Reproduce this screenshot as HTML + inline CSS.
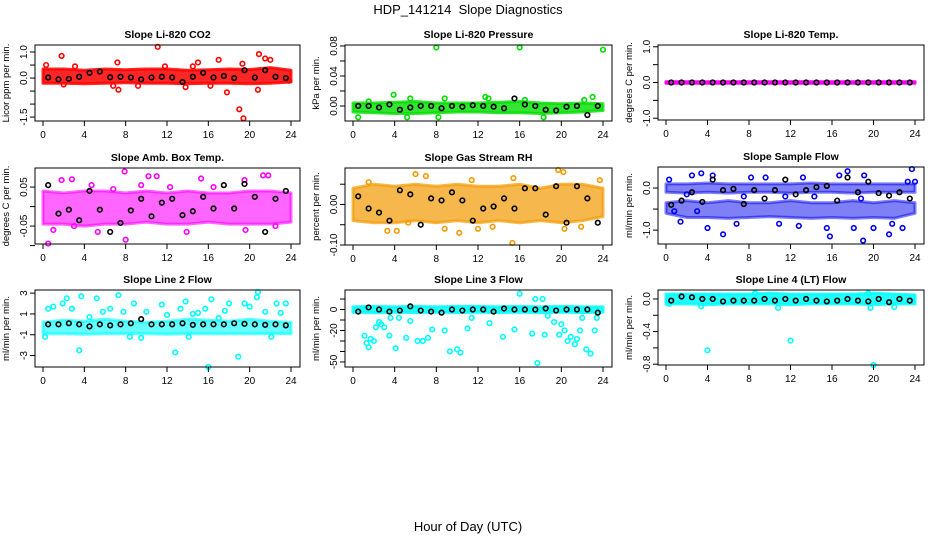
<!DOCTYPE html>
<html><head><meta charset="utf-8"><style>
body{margin:0;background:#fff}
svg{display:block;font-family:"Liberation Sans",sans-serif}
.t{font-size:10.5px;font-weight:bold}
.tk{font-size:10px}
.yl{font-size:9.5px}
</style></head><body>
<svg id="chart" width="936" height="540" viewBox="0 0 936 540">
<rect width="936" height="540" fill="#fff"/>
<text x="468" y="14" text-anchor="middle" font-size="13" xml:space="preserve">HDP_141214  Slope Diagnostics</text>
<text x="468" y="531" text-anchor="middle" font-size="13">Hour of Day (UTC)</text>
<g id="panels"></g>
</svg>
<script>
// shared x data
const xTicks = [0,4,8,12,16,20,24];
const bandHours = [0,2,4,6,8,10,12,14,16,18,20,22,24];
const meanHours = [0.5,1.5,2.5,3.5,4.5,5.5,6.5,7.5,8.5,9.5,10.5,11.5,12.5,13.5,14.5,15.5,16.5,17.5,18.5,19.5,20.5,21.5,22.5,23.5];

// Panel 1: CO2
const co2BandLo = [-0.2,-0.2,-0.22,-0.2,-0.18,-0.2,-0.2,-0.22,-0.2,-0.2,-0.22,-0.2,-0.15];
const co2BandHi = [0.35,0.35,0.3,0.35,0.32,0.35,0.35,0.3,0.32,0.35,0.33,0.4,0.3];
const co2Pts = [[1.8,0.85],[11.1,1.2],[19,-1.2],[19.4,-1.55],[20.9,0.92],[17.8,-0.55],[17,0.7],[21.5,0.75],[7.2,0.6],[15,0.6],[0.3,0.5],[16.2,-0.3],[20.8,-0.45],[7.3,-0.45],[2,-0.25],[13.8,-0.35],[9.2,-0.3],[22,0.7],[19.3,0.55],[3.1,0.45],[6.8,-0.3],[11.8,0.45],[14.5,0.45],[23.8,-0.1]];
const co2Means = [0.02,-0.05,-0.03,0.05,0.2,0.25,0.03,0.05,0.02,-0.05,0.02,0.05,0.02,-0.15,0.05,0.2,0.02,0.08,0,0.3,0.02,0.3,0.05,0];

// Panel 2: Pressure
const prBandLo = [-0.008,-0.009,-0.01,-0.01,-0.009,-0.008,-0.008,-0.009,-0.009,-0.01,-0.009,-0.008,-0.006];
const prBandHi = [0.004,0.004,0.005,0.006,0.004,0.004,0.004,0.005,0.006,0.004,0.003,0.004,0.003];
const prPts = [[8,0.078],[16,0.078],[24,0.075],[3.9,0.015],[8.8,0.01],[12.7,0.012],[23,0.012],[5.5,0.01],[16.5,0.008],[0.5,-0.015],[8.2,-0.015],[18.3,-0.015],[5.2,-0.015],[1.5,0.006],[13,0.01],[22.2,0.008]];
const prMeans = [0,0,-0.002,0.002,-0.005,-0.002,0,0,-0.003,0,-0.001,0.001,0,-0.001,-0.003,0.01,0.002,0,-0.005,-0.006,-0.001,0,-0.012,0];

// Panel 3: Li-820 Temp
const tpBandLo = [-0.02,-0.02,-0.02,-0.02,-0.02,-0.02,-0.02,-0.02,-0.02,-0.02,-0.02,-0.02,-0.02];
const tpBandHi = [0.02,0.02,0.02,0.02,0.02,0.02,0.02,0.02,0.02,0.02,0.02,0.02,0.02];
const tpPts = [];
const tpMeans = [0,0,0,0,0,0,0,0,0,0,0,0,0,0,0,0,0,0,0,0,0,0,0,0];

// Panel 4: Amb Box Temp
const abBandLo = [-0.045,-0.045,-0.05,-0.045,-0.045,-0.04,-0.045,-0.045,-0.04,-0.045,-0.045,-0.045,-0.04];
const abBandHi = [0.04,0.035,0.04,0.04,0.035,0.04,0.035,0.04,0.035,0.035,0.04,0.04,0.035];
const abPts = [[0.5,-0.095],[7.9,0.09],[8,-0.085],[21.3,0.08],[1.8,0.068],[2.8,0.07],[10.2,0.078],[11,0.078],[15.3,0.072],[19.5,0.068],[21.8,0.08],[1,-0.06],[13.9,-0.065],[19.6,-0.06],[3,-0.05],[5.3,-0.065],[4.7,0.055],[6.8,0.045],[22.5,-0.05],[12.3,0.05],[16.5,0.05],[9.5,0.055]];
const abMeans = [0.055,-0.018,-0.008,-0.035,0.04,-0.008,-0.065,-0.042,-0.01,0.02,-0.025,0.01,0.02,-0.022,-0.012,0.025,-0.005,0.055,-0.005,0.058,0.025,-0.065,0.02,0.04];

// Panel 5: Gas Stream RH
const rhBandLo = [-0.04,-0.045,-0.045,-0.04,-0.045,-0.04,-0.045,-0.04,-0.045,-0.04,-0.045,-0.04,-0.03];
const rhBandHi = [0.04,0.05,0.045,0.05,0.045,0.05,0.045,0.045,0.05,0.04,0.05,0.05,0.04];
const rhPts = [[6,0.075],[7,0.07],[19.7,0.085],[20.2,0.08],[15.3,-0.095],[10.2,-0.07],[4.2,-0.065],[3.3,-0.065],[8.8,-0.06],[12,-0.06],[23.7,0.06],[1.5,0.055],[13.4,-0.055],[20.3,-0.06],[21.9,-0.055],[15.4,0.065],[5.3,-0.045],[11.4,0.06]];
const rhMeans = [0.02,-0.01,-0.02,-0.04,0.035,0.025,-0.05,0.015,0.01,0.03,0.01,-0.04,-0.01,-0.005,0.015,-0.01,0.04,0.04,-0.025,0.045,-0.045,0.045,0.015,-0.045];

// Panel 6: Sample Flow
const sfBandLo = [-0.1,-0.12,-0.1,-0.12,-0.1,-0.1,-0.12,-0.1,-0.1,-0.12,-0.1,-0.1,-0.1];
const sfBandHi = [0.1,0.1,0.12,0.1,0.1,0.1,0.1,0.12,0.1,0.1,0.1,0.1,0.1];
const sfBand2Lo = [-0.6,-0.7,-0.7,-0.72,-0.7,-0.68,-0.7,-0.72,-0.7,-0.72,-0.7,-0.72,-0.6];
const sfBand2Hi = [-0.35,-0.3,-0.35,-0.3,-0.35,-0.35,-0.3,-0.35,-0.35,-0.3,-0.35,-0.3,-0.35];
const sfPts = [[19,-1.25],[5.5,-1.1],[15.8,-1.15],[21.5,-1.1],[17.5,0.4],[23.7,0.45],[3.4,0.35],[4.5,0.3],[1.4,-0.8],[12.8,-0.9],[4,-0.95],[18.1,-0.95],[20,-0.95],[22.8,-0.95],[10.9,-0.85],[15.5,-0.95],[0.3,0.2],[19.1,0.3],[16.7,0.3],[2.5,0.3],[8.2,0.25],[9.6,0.25],[13.2,0.25],[23.3,0.15],[24,0.15],[6.8,-0.85],[2,-0.15],[7.5,-0.2],[11.5,-0.2],[14.3,-0.2],[18.8,-0.25],[21.8,-0.85],[0.8,-0.55],[3,-0.55]];
const sfMeans = [-0.4,-0.3,-0.1,-0.33,0.2,-0.05,-0.02,-0.38,-0.05,-0.25,-0.05,0.2,-0.15,-0.05,0.02,0.05,-0.3,0.25,-0.1,0.15,-0.12,-0.18,-0.1,-0.25];

// Panel 7: Line 2 Flow
const l2BandLo = [-0.9,-0.9,-0.95,-0.9,-0.9,-0.9,-0.95,-0.9,-0.9,-0.9,-0.9,-0.9,-0.9];
const l2BandHi = [0.2,0.4,0.3,0.5,0.3,0.2,0.3,0.5,0.4,0.3,0.5,0.3,0.2];
const l2Pts = [[16,-4.1],[20.8,3.1],[2.3,2.5],[3.7,2.7],[7.3,2.8],[16.3,2.4],[20.7,2.6],[1.9,2],[5.2,2.5],[11.5,1.9],[13.3,1.5],[15.7,1.5],[18,2],[19.5,2],[22.6,2],[23.5,2],[2.8,1.5],[6.5,1.5],[10,1.2],[0.2,-1.2],[3.5,-2.5],[12.8,-2.7],[18.9,-3.1],[8.4,-1.2],[9.5,-1.3],[14.1,-1.2],[22.1,-1.2],[14.5,1],[17.6,1.3],[21.5,1.2],[0.5,1.5],[4.5,0.7],[7.8,1.2],[12,0.9],[17,0.6],[13.8,2.2],[1,1.7],[8.8,2],[15,1.1],[20,1.7],[23,1.1],[5.8,1.2]];
const l2Means = [0,0,0.1,0,-0.2,0,-0.1,0,0.1,0.5,0,0,0,0.1,-0.05,0,0,0,0.1,0.05,0,-0.05,0,-0.1];

// Panel 8: Line 3 Flow
const l3BandLo = [-2.5,-3,-2.5,-3,-2.5,-3,-2.5,-3,-2.5,-3,-2.5,-3,-2.5];
const l3BandHi = [2.5,3,2.5,3,2.5,3,3,2.5,3,2.5,3,2.5,2.5];
const l3Pts = [[1.1,-25],[1.3,-32],[1.5,-36],[1.7,-28],[2.2,-17],[2.5,-12],[3,-17],[3.6,-8],[3.5,-25],[4.1,-37],[4.4,-8],[5.1,-27],[5.5,-11],[6.2,-30],[6.7,-30],[7.2,-27],[7.6,-19],[8.8,-20],[9.3,-40],[10,-38],[10.3,-41],[11,-18],[11.4,-8],[13.1,-13],[14.4,-26],[15.5,-19],[16,15],[17.2,-23],[17.5,10],[17.7,-51],[18.2,10],[18.4,-24],[18.7,-6],[19.3,-12],[19.8,-24],[20,-14],[20.3,-20],[20.6,-30],[20.9,-26],[21.3,-33],[21.5,-28],[21.8,-20],[22,-8],[22.4,-38],[22.8,-42],[23.2,-20],[23.4,-8],[2,-30],[2.7,-14]];
const l3Means = [-2,2,0,-2,-1,3,-1,-2,-3,0,-1,0,0,-2,1,0,0,0,1,-1,0,0,0,-3];

// Panel 9: Line 4 Flow
const l4BandLo = [-0.06,-0.06,-0.07,-0.06,-0.06,-0.06,-0.07,-0.06,-0.06,-0.06,-0.07,-0.06,-0.06];
const l4BandHi = [0.06,0.06,0.06,0.06,0.06,0.07,0.06,0.06,0.06,0.06,0.07,0.06,0.05];
const l4Pts = [[4,-0.63],[12,-0.51],[20,-0.81],[10.8,-0.11],[19.7,-0.11],[3.4,-0.09],[22,-0.1],[0.3,-0.06],[8.6,0.07],[19.5,0.07]];
const l4Means = [-0.02,0.03,0.02,0,0,-0.03,-0.02,-0.02,-0.02,0,-0.02,0,-0.02,0,-0.02,-0.03,-0.02,0,-0.02,-0.03,0,-0.04,0,-0.02];

const panels = [
 {name:'co2',title:'Slope Li-820 CO2',ylab:'Licor ppm per min.',x0:35,x1:300,y0:45,y1:121,ymin:-1.65,ymax:1.27,ticks:[-1.5,-1,-0.5,0,0.5,1],labels:[[1,'1.0'],[0,'0.0'],[-1.5,'-1.5']],color:'#ff0000',bands:[[co2BandLo,co2BandHi]],pts:co2Pts,means:co2Means,op:0.85},
 {name:'pressure',title:'Slope Li-820 Pressure',ylab:'kPa per min.',x0:345,x1:612,y0:45,y1:121,ymin:-0.02,ymax:0.0813,ticks:[0,0.02,0.04,0.06,0.08],labels:[[0.08,'0.08'],[0.04,'0.04'],[0,'0.00']],color:'#00dd00',bands:[[prBandLo,prBandHi]],pts:prPts,means:prMeans,op:0.8},
 {name:'li820-temp',title:'Slope Li-820 Temp.',ylab:'degrees C per min.',x0:658,x1:924,y0:45,y1:120,ymin:-1.05,ymax:1.05,ticks:[-1,-0.5,0,0.5,1],labels:[[1,'1.0'],[0,'0.0'],[-1,'-1.0']],color:'#ff00ff',bands:[[tpBandLo,tpBandHi]],pts:tpPts,means:tpMeans,op:1},
 {name:'amb-box-temp',title:'Slope Amb. Box Temp.',ylab:'degrees C per min.',x0:35,x1:300,y0:168,y1:244,ymin:-0.096,ymax:0.099,ticks:[-0.1,-0.05,0,0.05],labels:[[0.05,'0.05'],[-0.05,'-0.05']],color:'#ff00ff',bands:[[abBandLo,abBandHi]],pts:abPts,means:abMeans,op:0.6},
 {name:'gas-stream-rh',title:'Slope Gas Stream RH',ylab:'percent per min.',x0:345,x1:612,y0:168,y1:245,ymin:-0.1,ymax:0.09,ticks:[-0.1,-0.05,0,0.05],labels:[[0,'0.00'],[-0.1,'-0.10']],color:'#f29a00',bands:[[rhBandLo,rhBandHi]],pts:rhPts,means:rhMeans,op:0.7},
 {name:'sample-flow',title:'Slope Sample Flow',ylab:'ml/min per min.',x0:658,x1:924,y0:167,y1:244,ymin:-1.33,ymax:0.5,ticks:[-1,-0.5,0],labels:[[0,'0.0'],[-1,'-1.0']],color:'#0000ee',bands:[[sfBandLo,sfBandHi],[sfBand2Lo,sfBand2Hi]],pts:sfPts,means:sfMeans,op:0.5},
 {name:'line2-flow',title:'Slope Line 2 Flow',ylab:'ml/min per min.',x0:35,x1:300,y0:290,y1:367,ymin:-4.1,ymax:3.3,ticks:[-3,-1,1,3],labels:[[3,'3'],[1,'1'],[-1,'-1'],[-3,'-3']],color:'#00ffff',bands:[[l2BandLo,l2BandHi]],pts:l2Pts,means:l2Means,op:0.6},
 {name:'line3-flow',title:'Slope Line 3 Flow',ylab:'ml/min per min.',x0:345,x1:612,y0:290,y1:367,ymin:-54.8,ymax:18.6,ticks:[-50,-40,-30,-20,-10,0,10],labels:[[0,'0'],[-20,'-20'],[-50,'-50']],color:'#00ffff',bands:[[l3BandLo,l3BandHi]],pts:l3Pts,means:l3Means,op:0.85},
 {name:'line4-flow',title:'Slope Line 4 (LT) Flow',ylab:'ml/min per min.',x0:658,x1:924,y0:290,y1:365,ymin:-0.81,ymax:0.11,ticks:[-0.8,-0.6,-0.4,-0.2,0],labels:[[0,'0.0'],[-0.4,'-0.4'],[-0.8,'-0.8']],color:'#00ffff',bands:[[l4BandLo,l4BandHi]],pts:l4Pts,means:l4Means,op:0.85}
];

const NS='http://www.w3.org/2000/svg';
const root=document.getElementById('panels');
function mk(tag,attrs,parent){const e=document.createElementNS(NS,tag);for(const k in attrs)e.setAttribute(k,attrs[k]);parent.appendChild(e);return e;}

panels.forEach(p=>{
  const g=mk('g',{},root);
  
  
  const xs=p.x0+8, xe=p.x1-9;
  const X=h=>xs+(xe-xs)*h/24;
  const Y=v=>p.y1-(p.y1-p.y0)*(v-p.ymin)/(p.ymax-p.ymin);
  const cx=(p.x0+p.x1)/2;
  const t=mk('text',{x:cx,y:p.y0-7,'text-anchor':'middle',class:'t'},g);
  t.textContent=p.title;
  
  
  const yl=mk('text',{transform:`translate(${p.x0-26},${(p.y0+p.y1)/2}) rotate(-90)`,x:0,y:0,'text-anchor':'middle',class:'yl'},g);
  yl.textContent=p.ylab;
  
  
  p.bands.forEach(b=>{
    let d='';
    bandHours.forEach((h,i)=>{d+=(i?'L':'M')+X(h)+','+Y(b[1][i]);});
    for(let i=bandHours.length-1;i>=0;i--) d+='L'+X(bandHours[i])+','+Y(b[0][i]);
    const path=mk('path',{d:d+'Z',fill:p.color,'fill-opacity':p.op,stroke:p.color,'stroke-width':3,'stroke-linejoin':'round','stroke-opacity':p.op},g);
    
    
  });
  p.pts.forEach(pt=>{
    const c=mk('circle',{cx:X(pt[0]),cy:Y(pt[1]),r:2.3,fill:'none',stroke:p.color,'stroke-width':1.6},g);
    
    
  });
  p.means.forEach((v,i)=>{
    const c=mk('circle',{cx:X(meanHours[i]),cy:Y(v),r:2.3,fill:'none',stroke:'#000','stroke-width':1.6},g);
    
    
  });
  const box=mk('rect',{x:p.x0,y:p.y0,width:p.x1-p.x0,height:p.y1-p.y0,fill:'none',stroke:'#000','stroke-width':1},g);
  
  
  const xa=mk('g',{},g);
  
  
  xTicks.forEach(h=>{
    mk('line',{x1:X(h),x2:X(h),y1:p.y1,y2:p.y1+5,stroke:'#000'},xa);
    const tx=mk('text',{x:X(h),y:p.y1+17,'text-anchor':'middle',class:'tk'},xa);
    tx.textContent=h;
  });
  const ya=mk('g',{},g);
  
  
  p.ticks.forEach(v=>{mk('line',{x1:p.x0-5,x2:p.x0,y1:Y(v),y2:Y(v),stroke:'#000'},ya);});
  p.labels.forEach(l=>{
    const tx=mk('text',{transform:`translate(${p.x0-8},${Y(l[0])}) rotate(-90)`,'text-anchor':'middle',class:'tk'},ya);
    tx.textContent=l[1];
  });
});
</script>
</body></html>
